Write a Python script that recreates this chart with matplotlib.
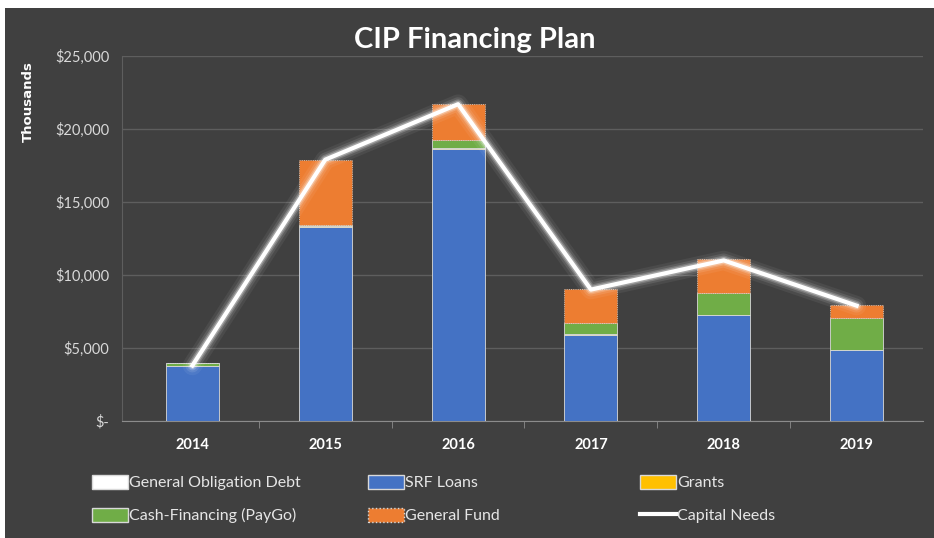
import numpy as np
import matplotlib.pyplot as plt
from matplotlib.patches import Rectangle, Patch
from matplotlib.lines import Line2D

plt.rcParams['font.family'] = ['Lato', 'DejaVu Sans']

# data (thousands of $)
years = ['2014', '2015', '2016', '2017', '2018', '2019']
go_debt = [0, 0, 0, 0, 0, 0]
srf_loans = [3800, 13300, 18650, 5900, 7250, 4850]
grants = [0, 40, 30, 40, 30, 40]
cash_paygo = [150, 100, 600, 750, 1500, 2150]
general_fund = [0, 4460, 2420, 2360, 2320, 910]
capital_needs = [3800, 17900, 21700, 9000, 11000, 7900]

bg = '#404040'
fig = plt.figure(figsize=(9.34, 5.38), dpi=100, facecolor='white')
fig.patches.append(Rectangle((5 / 934, 0), 1, 1 - 8 / 538, transform=fig.transFigure,
                             facecolor=bg, edgecolor='none', zorder=-10))

ax = fig.add_axes([122 / 934, 1 - 421 / 538, 801 / 934, 365 / 538])
ax.set_facecolor(bg)
x = np.arange(len(years))
w = 0.4

series = [
    (go_debt, 'white', 'General Obligation Debt'),
    (srf_loans, '#4472c4', 'SRF Loans'),
    (grants, '#ffc000', 'Grants'),
    (cash_paygo, '#70ad47', 'Cash-Financing (PayGo)'),
    (general_fund, '#ed7d31', 'General Fund'),
]
bottom = np.zeros(len(years))
for vals, col, lab in series:
    vals = np.array(vals, dtype=float)
    ls = ':' if col == '#ed7d31' else '-'
    ax.bar(x, vals, w, bottom=bottom, color=col, edgecolor='#d9d9d9',
           linewidth=0.6, linestyle=ls, zorder=3)
    bottom += vals

# glowing line
for lw, a in [(14, 0.06), (10, 0.1), (7, 0.18), (5, 0.3)]:
    ax.plot(x, capital_needs, color='white', lw=lw, alpha=a, zorder=4,
            solid_joinstyle='round', solid_capstyle='round')
ax.plot(x, capital_needs, color='white', lw=3, zorder=5)

ax.set_ylim(0, 25000)
ax.set_xlim(-0.53, 5.5)
ax.set_yticks(range(0, 25001, 5000))
ax.set_yticklabels(['$-', '$5,000', '$10,000', '$15,000', '$20,000', '$25,000'])
ax.set_xticks(x)
ax.set_xticklabels(years, fontweight='bold')
ax.set_xticks(np.arange(0.5, 5.5, 1), minor=True)
ax.tick_params(axis='x', which='major', length=0, pad=12, colors='white', labelsize=10.5)
ax.tick_params(axis='x', which='minor', length=5, color='#8c8c8c', direction='out')
ax.tick_params(axis='y', length=0, pad=9, colors='#d9d9d9', labelsize=10.5)
ax.grid(axis='y', color='#5e5e5e', lw=1, zorder=0)
for s in ['top', 'right']:
    ax.spines[s].set_visible(False)
ax.spines['bottom'].set_color('#8c8c8c')
ax.spines['left'].set_color('#5e5e5e')

fig.text(475 / 934, 1 - 40 / 538, 'CIP Financing Plan', color='white', fontsize=21,
         fontweight='bold', ha='center', va='center')
fig.text(28 / 934, 1 - 102 / 538, 'Thousands', color='white', fontsize=9.5,
         fontweight='bold', rotation=90, ha='center', va='center',
         family=['DejaVu Sans'])

columns = [
    (78, [Patch(facecolor='white', edgecolor='#d9d9d9', label='General Obligation Debt'),
          Patch(facecolor='#70ad47', edgecolor='#d9d9d9', label='Cash-Financing (PayGo)')]),
    (354, [Patch(facecolor='#4472c4', edgecolor='#d9d9d9', label='SRF Loans'),
           Patch(facecolor='#ed7d31', edgecolor='#d9d9d9', linestyle=':', label='General Fund')]),
    (626, [Patch(facecolor='#ffc000', edgecolor='#d9d9d9', label='Grants'),
           Line2D([0], [0], color='white', lw=3, label='Capital Needs')]),
]
for xpos, hs in columns:
    fig.legend(handles=hs, loc='center left', bbox_to_anchor=(xpos / 934, 1 - 499 / 538),
               frameon=False, fontsize=11.5, labelcolor='#e6e6e6',
               handlelength=2.2, handleheight=1.0, handletextpad=0.1, labelspacing=1.1)

fig.savefig('out.png', dpi=100, facecolor='white')
